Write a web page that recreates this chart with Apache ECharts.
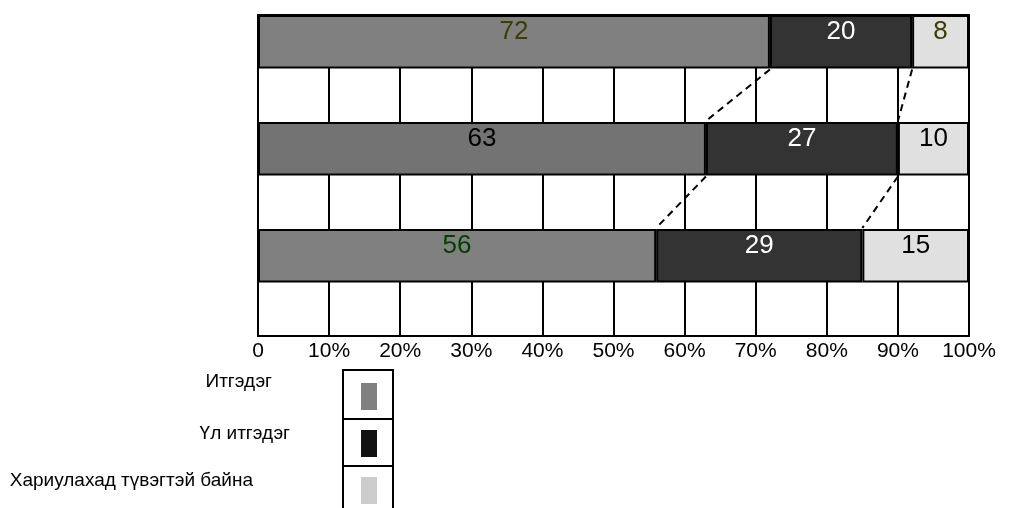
<!DOCTYPE html>
<html>
<head>
<meta charset="utf-8">
<script src="https://cdn.jsdelivr.net/npm/echarts@6/dist/echarts.min.js"></script>
<style>
  html, body { margin: 0; padding: 0; background: #fff; }
  #chart { width: 1009px; height: 508px; }
</style>
</head>
<body>
<div id="chart"></div>
<script>
// ---- data ----
const categories = ['1', '2', '3'];
const seriesNames = ['Итгэдэг', 'Үл итгэдэг', 'Хариулахад түвэгтэй байна'];
const trustValues = [72, 63, 56];
const distrustValues = [20, 27, 29];
const hardValues = [8, 10, 15];
const xTickLabels = ['0', '10%', '20%', '30%', '40%', '50%', '60%', '70%', '80%', '90%', '100%'];

// ---- styles (kept separate from data) ----
const FONT = "'Liberation Sans', Arial, Helvetica, sans-serif";
const trustBarColors = ['#808080', '#737373', '#808080'];
const trustLabelColors = ['#3d3d00', '#000000', '#004000'];
const distrustLabelColors = ['#ffffff', '#ffffff', '#ffffff'];
const hardLabelColors = ['#3d3d00', '#000000', '#000000'];
const legendIconColors = ['#808080', '#111111', '#cccccc'];
const legendIconTops = [383, 430, 477];
const legendTextShift = [15, 10, 10];     // text sits above icon centre
const legendTextPadRight = [84, 66, 103];

// y axis: each category is followed by an empty gap row
const yCats = [];
categories.forEach((c, i) => { yCats.push(c); yCats.push('gap' + i); });

function rows(values, labelColors, barColors) {
  const out = [];
  values.forEach((v, i) => {
    const item = { value: v, label: { color: labelColors[i] } };
    if (barColors) item.itemStyle = { color: barColors[i] };
    out.push(item);
    out.push('-');
  });
  return out;
}

// series lines (dashed connectors between consecutive bars)
const cumTrust = trustValues.slice();
const cumDistrust = trustValues.map((v, i) => v + distrustValues[i]);
const connectorData = [];
for (let i = 0; i < categories.length - 1; i++) {
  connectorData.push([cumTrust[i], cumTrust[i + 1], 2 * i + 1]);
  connectorData.push([cumDistrust[i], cumDistrust[i + 1], 2 * i + 1]);
}

const barLabel = {
  show: true,
  position: 'inside',
  offset: [0, -10],
  fontSize: 26,
  fontFamily: FONT,
  formatter: p => p.value
};
const barBase = {
  type: 'bar',
  stack: 'total',
  barCategoryGap: 0,
  label: barLabel,
  emphasis: { disabled: true },
  itemStyle: { borderColor: '#000', borderWidth: 2 }
};

function legendFor(i) {
  const s = legendTextShift[i];
  const H = 27 + 2 * s;
  const iconPath = 'path://M0,0M0,' + (2 * s) + 'L16,' + (2 * s) + 'L16,' + H + 'L0,' + H + 'Z';
  return {
    data: [{
      name: seriesNames[i],
      icon: iconPath,
      itemStyle: { color: legendIconColors[i], borderWidth: 0 },
      textStyle: { padding: [0, legendTextPadRight[i], 0, 0] }
    }],
    orient: 'vertical', align: 'right',
    right: 1009 - 377, top: legendIconTops[i] - 2 * s,
    padding: 0, itemWidth: 16, itemHeight: H,
    selectedMode: false,
    textStyle: { fontSize: 19, color: '#000', fontFamily: FONT }
  };
}

const chart = echarts.init(document.getElementById('chart'));
chart.setOption({
  animation: false,
  backgroundColor: '#fff',
  textStyle: { fontFamily: FONT },
  grid: {
    left: 258, right: 40, top: 15, bottom: 172,
    show: true, borderColor: '#000', borderWidth: 2, backgroundColor: '#fff'
  },
  xAxis: {
    type: 'value', min: 0, max: 100, interval: 10,
    axisLine: { show: true, lineStyle: { color: '#000', width: 2 } },
    axisTick: { show: false },
    splitLine: { show: true, lineStyle: { color: '#000', width: 2 } },
    axisLabel: {
      margin: 5, fontSize: 21, color: '#000', fontFamily: FONT,
      formatter: v => xTickLabels[Math.round(v / 10)]
    }
  },
  yAxis: {
    type: 'category', inverse: true, data: yCats,
    axisLine: { show: false }, axisTick: { show: false },
    axisLabel: { show: false }, splitLine: { show: false }
  },
  legend: seriesNames.map((n, i) => legendFor(i)),
  graphic: [
    { type: 'rect', shape: { x: 343, y: 370, width: 50, height: 145 },
      style: { fill: 'none', stroke: '#000', lineWidth: 2 }, z: 100 },
    { type: 'line', shape: { x1: 343, y1: 419, x2: 393, y2: 419 },
      style: { stroke: '#000', lineWidth: 2 }, z: 100 },
    { type: 'line', shape: { x1: 343, y1: 466, x2: 393, y2: 466 },
      style: { stroke: '#000', lineWidth: 2 }, z: 100 }
  ],
  series: [
    Object.assign({}, barBase, {
      name: seriesNames[0], color: '#808080',
      data: rows(trustValues, trustLabelColors, trustBarColors)
    }),
    Object.assign({}, barBase, {
      name: seriesNames[1], color: '#333333',
      data: rows(distrustValues, distrustLabelColors)
    }),
    Object.assign({}, barBase, {
      name: seriesNames[2], color: '#e0e0e0',
      data: rows(hardValues, hardLabelColors)
    }),
    {
      type: 'custom',
      z: 10,
      silent: true,
      encode: { x: [0, 1], y: 2 },
      data: connectorData,
      renderItem: function (params, api) {
        const p = api.coord([api.value(0), api.value(2)]);
        const q = api.coord([api.value(1), api.value(2)]);
        const h = api.size([0, 1])[1];
        return {
          type: 'line',
          shape: { x1: p[0], y1: p[1] - h / 2 + 1, x2: q[0], y2: q[1] + h / 2 - 1 },
          style: { stroke: '#000', lineWidth: 2, lineDash: [7, 5] }
        };
      }
    }
  ]
});
</script>
</body>
</html>
